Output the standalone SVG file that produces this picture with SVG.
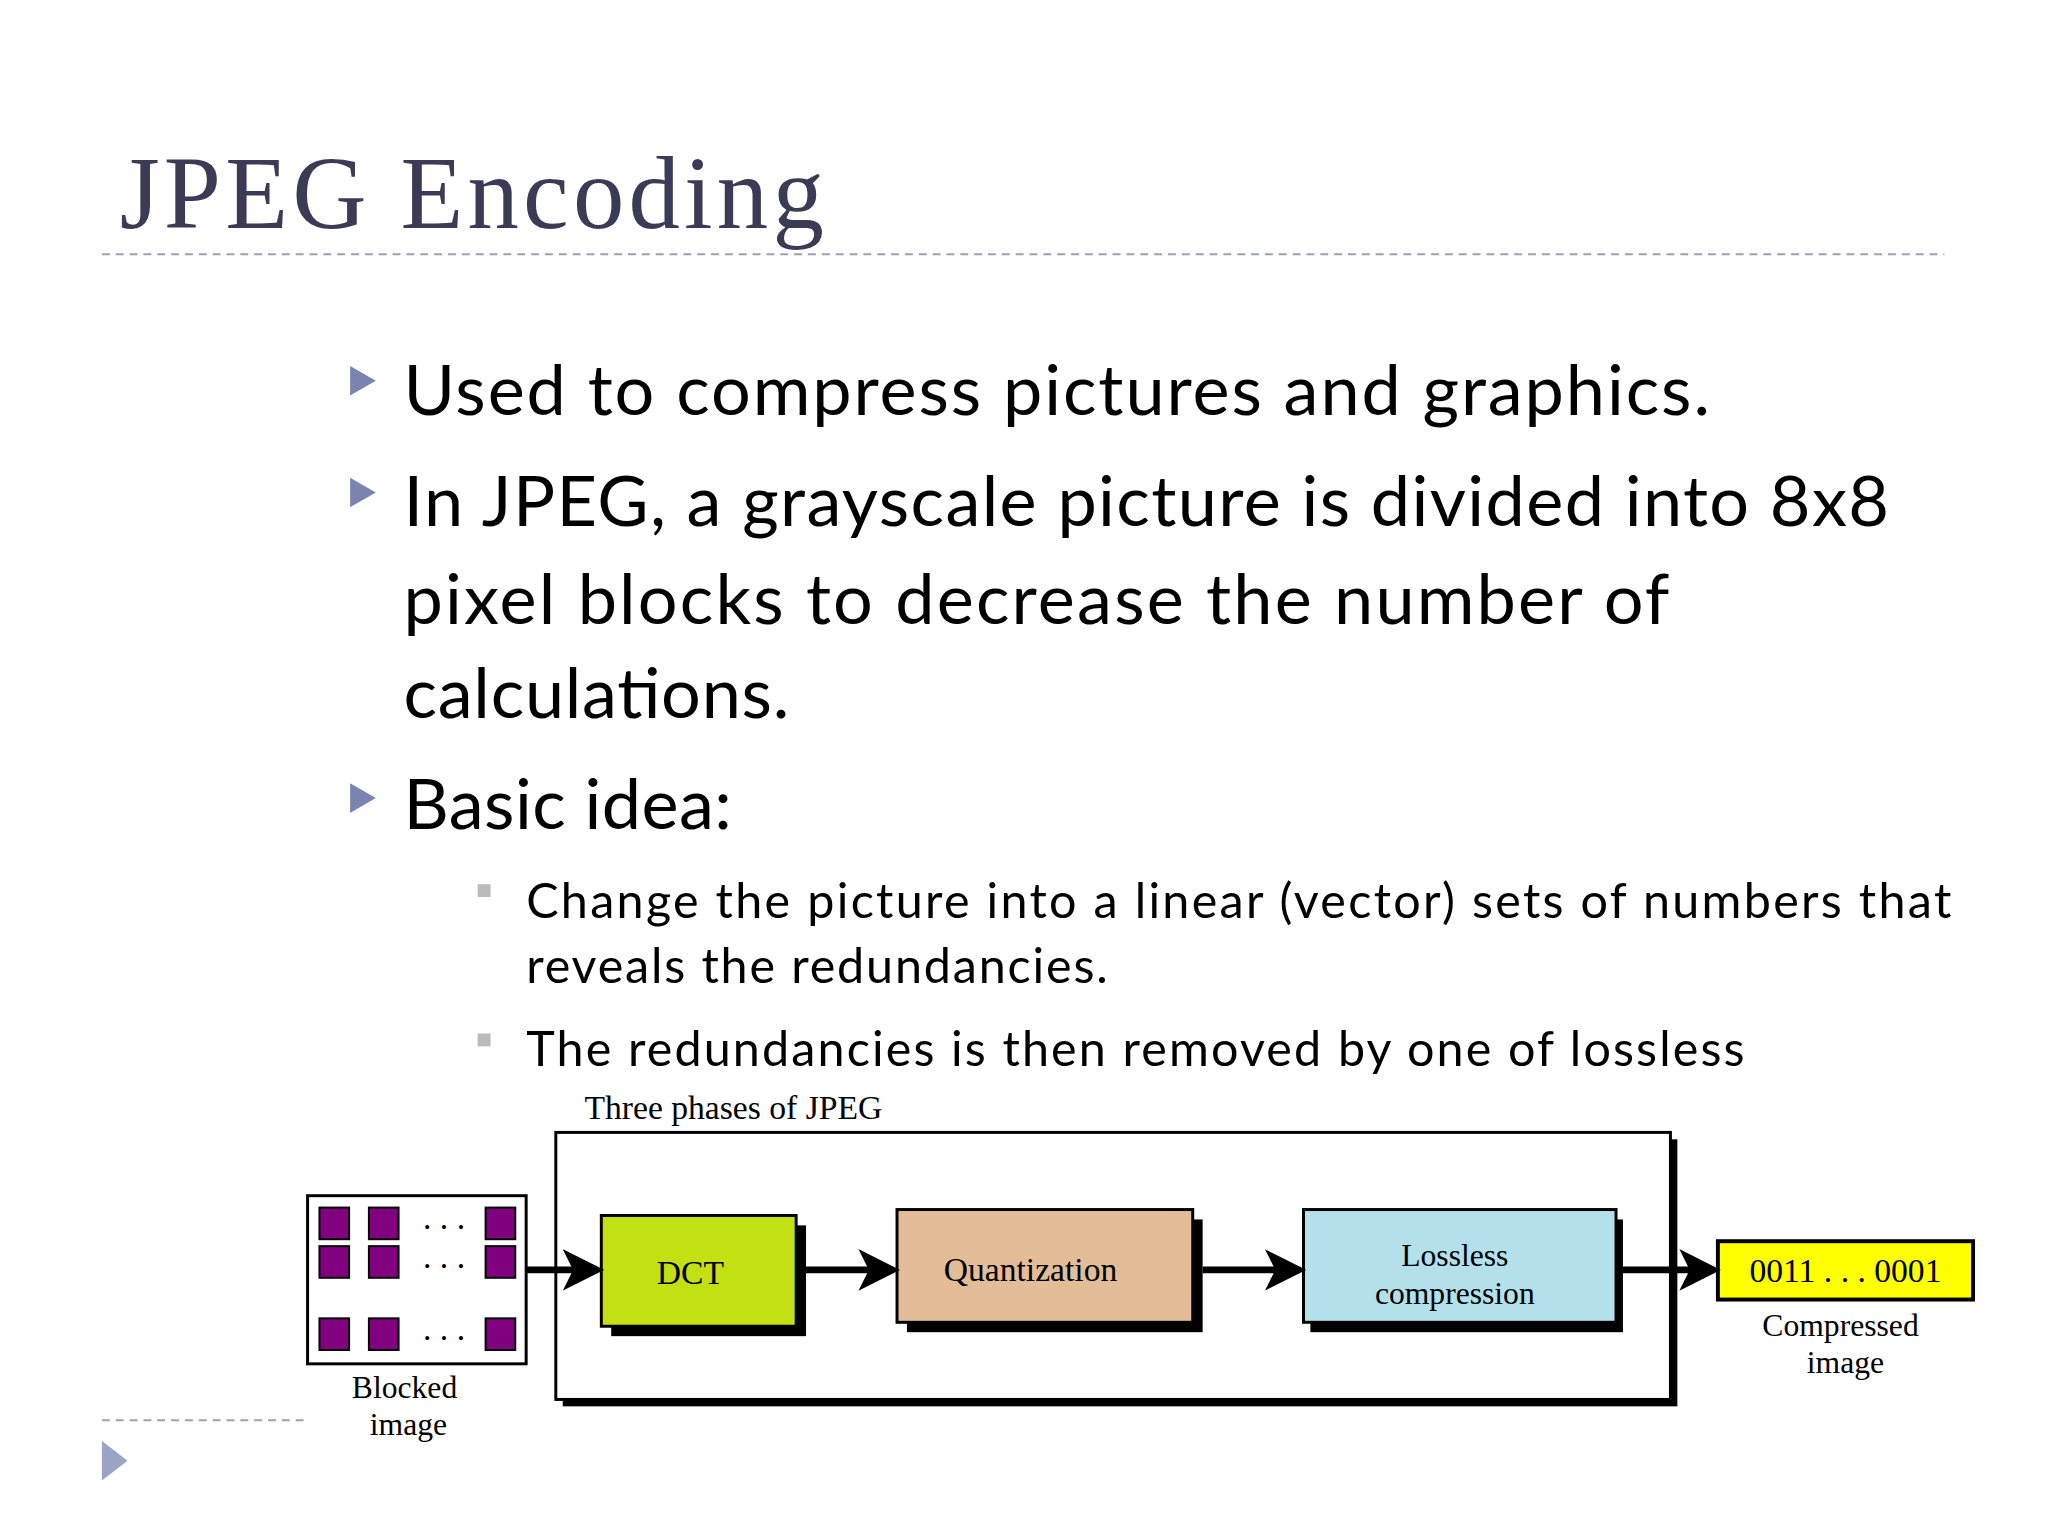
<svg xmlns="http://www.w3.org/2000/svg" width="2048" height="1536" viewBox="0 0 2048 1536">
<style>
.b{font-family:Lato,"Open Sans",sans-serif;font-size:71px;fill:#000}
.s{font-family:Lato,"Open Sans",sans-serif;font-size:49px;fill:#000}
.t{font-family:"Liberation Serif",serif;font-size:34px;fill:#000}
.t2{font-family:"Liberation Serif",serif;font-size:32px;fill:#000}
.box{stroke:#000;stroke-width:3}
.sq{fill:#800080;stroke:#000;stroke-width:2}
</style>
<defs><marker id="ah" markerWidth="6" markerHeight="6" refX="5" refY="3" orient="auto" markerUnits="strokeWidth"><path d="M0,0 L6,3 L0,6 L1.5,3 Z" fill="#000"/></marker></defs>
<rect width="2048" height="1536" fill="#fff"/>
<g transform="scale(0.989)">
<text x="121" y="231" font-family="'Liberation Serif',serif" font-size="104" fill="#3b3b55" textLength="712">JPEG Encoding</text>
<line x1="103" y1="257" x2="1966" y2="257" stroke="#9aa0b8" stroke-width="2" stroke-dasharray="8,6"/>
<g fill="#7a84b0"><path d="M354,370 L380,385 L354,400Z"/><path d="M354,483 L380,498 L354,513Z"/><path d="M354,792 L380,807 L354,822Z"/></g>
<text class="b" x="408" y="420" textLength="1321">Used to compress pictures and graphics.</text>
<text class="b" x="408" y="532" textLength="1502">In JPEG, a grayscale picture is divided into 8x8</text>
<text class="b" x="408" y="631" textLength="1280">pixel blocks to decrease the number of</text>
<text class="b" x="408" y="726" textLength="390">calculations.</text>
<text class="b" x="408" y="838" textLength="332">Basic idea:</text>
<g fill="#bbb"><rect x="483" y="894" width="13" height="13"/><rect x="483" y="1045" width="13" height="13"/></g>
<text class="s" x="532" y="928" textLength="1441">Change the picture into a linear (vector) sets of numbers that</text>
<text class="s" x="532" y="994" textLength="588">reveals the redundancies.</text>
<text class="s" x="532" y="1078" textLength="1232">The redundancies is then removed by one of lossless</text>
<text class="t" x="591" y="1131">Three phases of JPEG</text>
<g id="phases"><rect x="569" y="1152" width="1127" height="270" fill="#000"/><rect x="562" y="1145" width="1127" height="270" fill="#fff" class="box"/></g>
<g id="blocked">
<rect x="311" y="1209" width="221" height="170" fill="#fff" class="box" stroke-width="4"/>
<rect class="sq" x="323" y="1221" width="30" height="32"/><rect class="sq" x="373" y="1221" width="30" height="32"/><rect class="sq" x="491" y="1221" width="30" height="32"/>
<rect class="sq" x="323" y="1260" width="30" height="32"/><rect class="sq" x="373" y="1260" width="30" height="32"/><rect class="sq" x="491" y="1260" width="30" height="32"/>
<rect class="sq" x="323" y="1333" width="30" height="32"/><rect class="sq" x="373" y="1333" width="30" height="32"/><rect class="sq" x="491" y="1333" width="30" height="32"/>
<text class="t" x="449" y="1243" text-anchor="middle" font-size="24">. . .</text>
<text class="t" x="449" y="1282" text-anchor="middle" font-size="24">. . .</text>
<text class="t" x="449" y="1355" text-anchor="middle" font-size="24">. . .</text>
<text class="t2" x="409" y="1414" text-anchor="middle">Blocked</text><text class="t2" x="413" y="1451" text-anchor="middle">image</text>
</g>
<g id="dct"><rect x="618" y="1239" width="197" height="112" fill="#000"/><rect x="608" y="1229" width="197" height="112" fill="#c3e012" class="box"/><text class="t" x="698" y="1298" text-anchor="middle">DCT</text></g>
<g id="quant"><rect x="917" y="1233" width="299" height="114" fill="#000"/><rect x="907" y="1223" width="299" height="114" fill="#e3bd98" class="box"/><text class="t" x="1042" y="1295" text-anchor="middle">Quantization</text></g>
<g id="lossless"><rect x="1325" y="1233" width="316" height="114" fill="#000"/><rect x="1318" y="1223" width="316" height="114" fill="#b3e0ea" class="box"/><text class="t2" x="1471" y="1280" text-anchor="middle">Lossless</text><text class="t2" x="1471" y="1318" text-anchor="middle">compression</text></g>
<g id="out"><rect x="1737" y="1255" width="258" height="59" fill="#ffff00" stroke="#000" stroke-width="4"/><text class="t" x="1866" y="1296" text-anchor="middle">0011 . . . 0001</text>
<text class="t2" x="1861" y="1351" text-anchor="middle">Compressed</text><text class="t2" x="1866" y="1388" text-anchor="middle">image</text></g>
<g id="connectors" stroke="#000" stroke-width="7" marker-end="url(#ah)">
<line x1="532" y1="1284" x2="604" y2="1284"/><line x1="815" y1="1284" x2="903" y2="1284"/><line x1="1216" y1="1284" x2="1314" y2="1284"/><line x1="1641" y1="1284" x2="1733" y2="1284"/>
</g>
<line x1="103" y1="1436" x2="307" y2="1436" stroke="#9aa0b8" stroke-width="2" stroke-dasharray="8,6"/>
<path d="M103,1457 L129,1477 L103,1497Z" fill="#9aa4c4"/>
</g>
</svg>
